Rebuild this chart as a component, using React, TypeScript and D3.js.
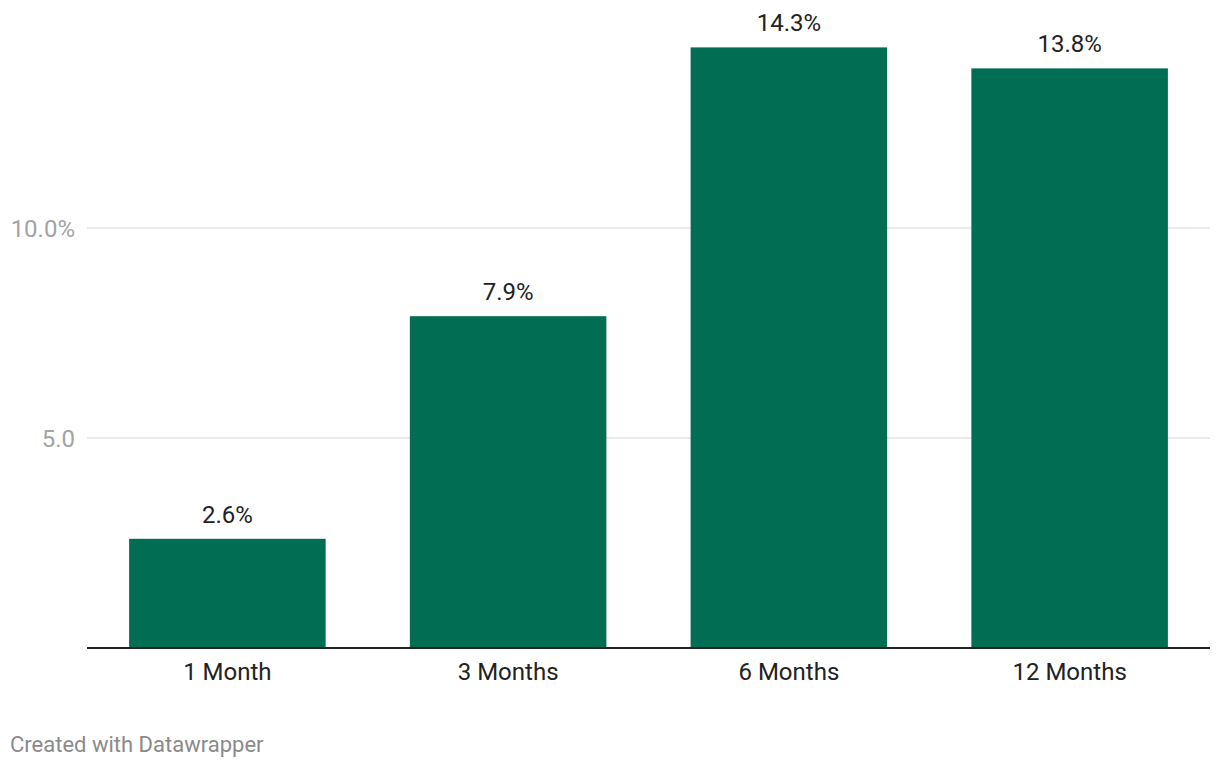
import React from "react";
import * as d3 from "d3";

const categories = ["1 Month", "3 Months", "6 Months", "12 Months"];
const values = [2.6, 7.9, 14.3, 13.8];
const labels = ["2.6%", "7.9%", "14.3%", "13.8%"];
const yTicks = [5, 10];
const yTickLabels = ["5.0", "10.0%"];

const W = 1220;
const H = 768;
const FONT = "Roboto, 'Noto Sans', sans-serif";

export default function App() {
  const x = d3
    .scaleBand<string>()
    .domain(categories)
    .range([87, 1210])
    .paddingInner(0.3)
    .paddingOuter(0.15);
  const y = d3.scaleLinear().domain([0, 10]).range([648, 228]);

  return (
    <svg
      width={W}
      height={H}
      style={{ position: "absolute", left: 0, top: 0, background: "#fff" }}
      fontFamily={FONT}
    >
      {yTicks.map((t, i) => (
        <g key={t}>
          <line x1={87} x2={1210} y1={y(t)} y2={y(t)} stroke="#e3e3e3" strokeWidth={1.5} />
          <text x={75} y={y(t) + 8.5} textAnchor="end" fontSize={24} fill="#a3a3a3">
            {yTickLabels[i]}
          </text>
        </g>
      ))}
      {categories.map((c, i) => (
        <g key={c}>
          <rect
            x={x(c)!}
            y={y(values[i])}
            width={x.bandwidth()}
            height={y(0) - y(values[i])}
            fill="#016e53"
          />
          <text
            x={x(c)! + x.bandwidth() / 2}
            y={y(values[i]) - 16}
            textAnchor="middle"
            fontSize={24}
            fill="#222"
          >
            {labels[i]}
          </text>
          <text
            x={x(c)! + x.bandwidth() / 2}
            y={679.5}
            textAnchor="middle"
            fontSize={24}
            fill="#222"
          >
            {c}
          </text>
        </g>
      ))}
      <line x1={87} x2={1210} y1={y(0)} y2={y(0)} stroke="#222" strokeWidth={2} />
      <text x={10} y={752} fontSize={22} fill="#8a8a8a">
        Created with Datawrapper
      </text>
    </svg>
  );
}
